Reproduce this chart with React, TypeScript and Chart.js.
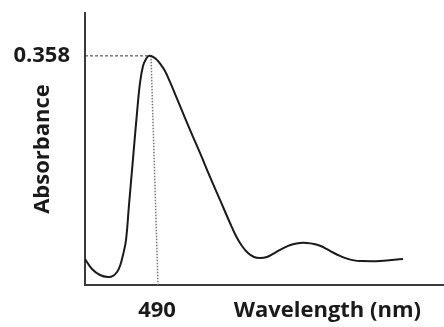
import React, { useEffect, useRef } from "react";
import { Chart, registerables } from "chart.js";

Chart.register(...registerables);

// Spectrum (wavelength in nm, absorbance)
const wavelengths = [418, 425, 433, 441, 446, 450, 453, 456, 459, 462, 466, 470, 473, 476, 479, 482, 486, 490, 494, 498, 503, 508, 513, 523, 533, 543, 553, 563, 569, 575, 581, 587, 593, 600, 607, 613, 620, 626, 633, 640, 647, 653, 660, 666, 673, 680, 687, 693, 713, 736];
const absorbance = [0.0406, 0.025, 0.0156, 0.0125, 0.0141, 0.0203, 0.0297, 0.0469, 0.0703, 0.1251, 0.197, 0.2689, 0.3158, 0.3423, 0.3533, 0.358, 0.3564, 0.3517, 0.3439, 0.3345, 0.3173, 0.2986, 0.2798, 0.2423, 0.2063, 0.1688, 0.1329, 0.0969, 0.0766, 0.061, 0.05, 0.0438, 0.0422, 0.0438, 0.0495, 0.0549, 0.0603, 0.0638, 0.0657, 0.0657, 0.0641, 0.0613, 0.056, 0.0508, 0.0455, 0.0412, 0.0385, 0.0375, 0.0375, 0.0406];

// Guide lines
const peakGuideX = [418, 482];
const peakGuideY = [0.358, 0.358];
const dropGuideX = [484, 491];
const dropGuideY = [0.358, 0];

// Tick labels
const xTickValues = [490];
const yTickValues = [0.358];
const xTitle = "Wavelength (nm)";
const yTitle = "Absorbance";

const FONT = '"Open Sans", "DejaVu Sans", sans-serif';
const TEXT_COLOR = "#1a1a1a";
const FONT_SIZE = 22;

const xTitlePlugin = {
  id: "xTitlePlugin",
  afterDraw(chart: any) {
    const ctx = chart.ctx;
    const xs = chart.scales.x;
    ctx.save();
    ctx.font = `bold ${FONT_SIZE}px ${FONT}`;
    ctx.fillStyle = TEXT_COLOR;
    ctx.textAlign = "right";
    ctx.textBaseline = "middle";
    ctx.fillText(xTitle, chart.chartArea.right - 23, xs.top + 13 + FONT_SIZE * 0.6);
    ctx.restore();
  },
};

export default function App() {
  const ref = useRef<HTMLCanvasElement>(null);
  useEffect(() => {
    const canvas = ref.current!;
    const chart = new Chart(canvas, {
      type: "line",
      data: {
        datasets: [
          {
            data: wavelengths.map((x, i) => ({ x, y: absorbance[i] })),
            borderColor: "#1a1a1a",
            borderWidth: 2,
            pointRadius: 0,
            tension: 0.4,
            fill: false,
          },
          {
            data: peakGuideX.map((x, i) => ({ x, y: peakGuideY[i] })),
            borderColor: "#333",
            borderWidth: 1,
            borderDash: [3, 2],
            pointRadius: 0,
            fill: false,
          },
          {
            data: dropGuideX.map((x, i) => ({ x, y: dropGuideY[i] })),
            borderColor: "#777",
            borderWidth: 1.5,
            borderDash: [1.5, 1.5],
            pointRadius: 0,
            fill: false,
          },
        ],
      },
      options: {
        responsive: false,
        animation: false,
        layout: { padding: { left: 0, right: 0, top: 13, bottom: 0 } },
        plugins: { legend: { display: false }, tooltip: { enabled: false } },
        scales: {
          x: {
            type: "linear",
            min: 418,
            max: 777,
            grid: { display: false, drawTicks: false },
            border: { display: true, color: "#3a3a3a", width: 2 },
            afterBuildTicks: (axis: any) => {
              axis.ticks = xTickValues.map((v) => ({ value: v }));
            },
            afterFit: (axis: any) => {
              axis.height = 42;
              axis.paddingLeft = 0;
              axis.paddingRight = 0;
            },
            ticks: {
              padding: 13,
              color: TEXT_COLOR,
              font: { family: FONT, size: FONT_SIZE, weight: "bold" },
              callback: (v: any) => String(v),
              maxRotation: 0,
              autoSkip: false,
            },
          },
          y: {
            type: "linear",
            min: 0,
            max: 0.425,
            grid: { display: false, drawTicks: false },
            border: { display: true, color: "#3a3a3a", width: 2 },
            afterBuildTicks: (axis: any) => {
              axis.ticks = yTickValues.map((v) => ({ value: v }));
            },
            afterFit: (axis: any) => {
              axis.width = 85;
              axis.paddingTop = 0;
              axis.paddingBottom = 0;
            },
            ticks: {
              padding: 15,
              color: TEXT_COLOR,
              font: { family: FONT, size: FONT_SIZE, weight: "bold" },
              callback: (v: any) => String(v),
              autoSkip: false,
            },
            title: {
              display: true,
              text: yTitle,
              color: TEXT_COLOR,
              font: { family: FONT, size: FONT_SIZE, weight: "bold" },
              padding: { top: 30, bottom: 0 },
            },
          },
        },
      },
      plugins: [xTitlePlugin],
    });
    return () => chart.destroy();
  }, []);
  return (
    <div style={{ position: "absolute", left: 0, top: 0, width: 444, height: 327, background: "#fff" }}>
      <canvas ref={ref} width={444} height={327} style={{ display: "block" }} />
    </div>
  );
}
